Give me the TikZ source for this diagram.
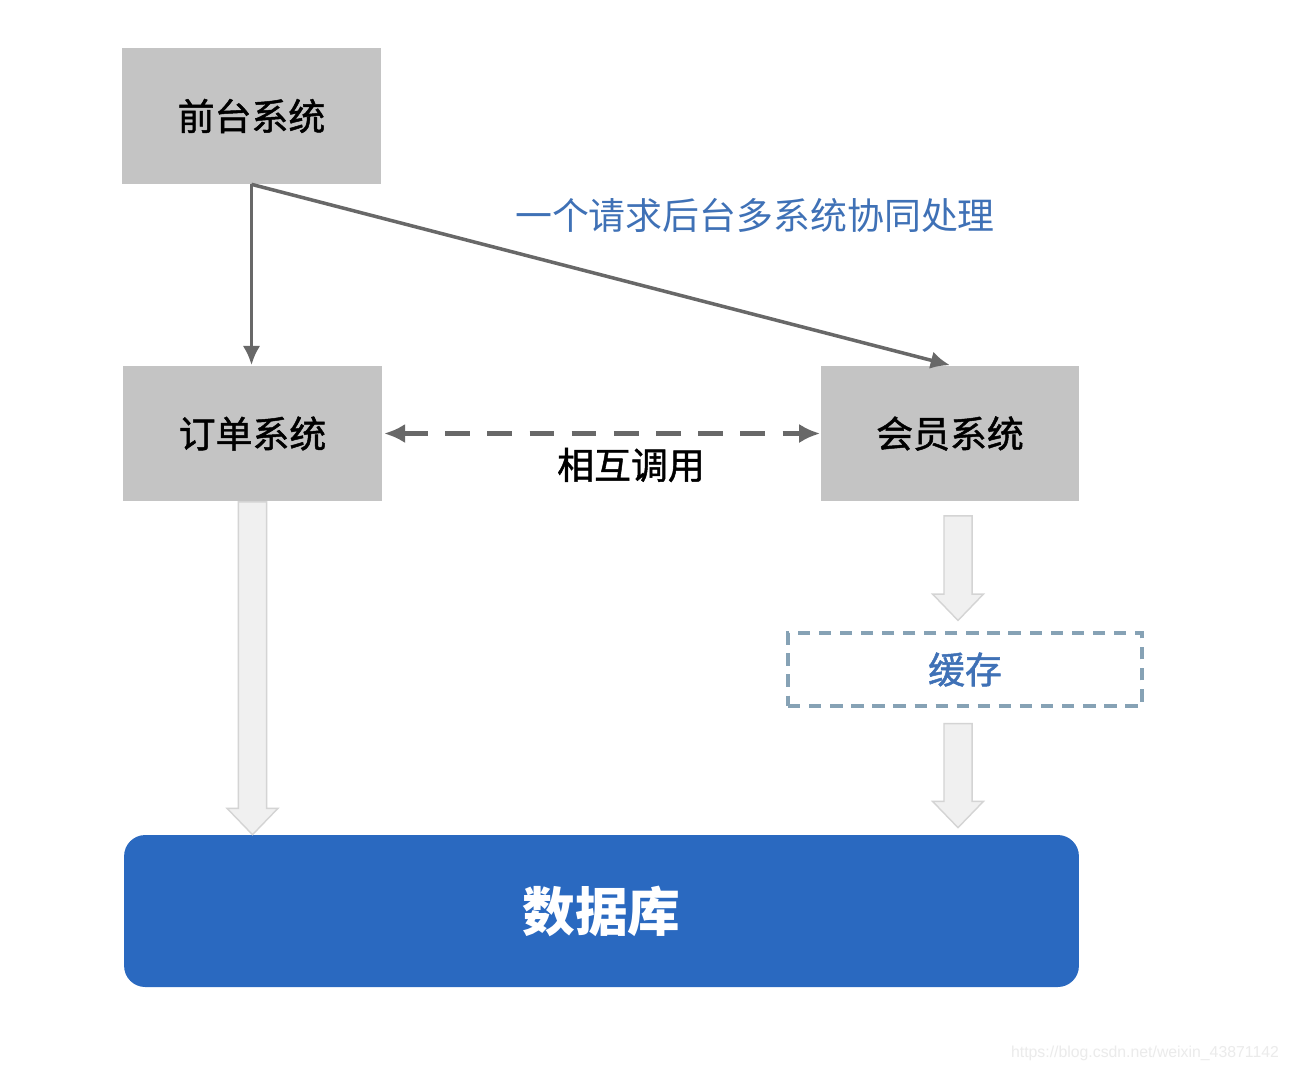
\documentclass[tikz,border=0pt]{standalone}
\usepackage{fontspec}
\newfontfamily\cjk{Noto Sans CJK SC}
\newfontfamily\cjkm[UprightFeatures={FakeBold=1.3}]{Noto Sans CJK SC}
\newfontfamily\wmfont{Liberation Sans}
\usetikzlibrary{arrows.meta,calc}
\definecolor{boxgray}{HTML}{C4C4C4}
\definecolor{linegray}{HTML}{686868}
\definecolor{noteblue}{HTML}{3F71B6}
\definecolor{dbblue}{HTML}{2A69C0}
\definecolor{cacheline}{HTML}{86A2B5}
\definecolor{fatfill}{HTML}{F0F0F0}
\definecolor{fatline}{HTML}{D4D4D4}

\begin{document}
\begin{tikzpicture}[x=0.02cm,y=-0.02cm,
  sys/.style={fill=boxgray, minimum width=5.18cm, minimum height=2.72cm, inner sep=0pt, font=\cjkm\fontsize{21}{25}\selectfont},
  call/.style={draw=linegray, line width=2pt, -{Latex[length=11pt,width=10pt]}},
  fatarrow/.style={draw=fatline, fill=fatfill, line width=0.8pt,
    to path={let \p1=(\tikztostart), \p2=(\tikztotarget) in
      (\x1-8pt,\y1) -- (\x1-8pt,\y2+15pt) -- (\x1-14.5pt,\y2+15pt) -- (\x1,\y2)
      -- (\x1+14.5pt,\y2+15pt) -- (\x1+8pt,\y2+15pt) -- (\x1+8pt,\y1) -- cycle}}]
\fill[white] (0,0) rectangle (1290,1072);
\useasboundingbox (0,0) rectangle (1290,1072);

\node[sys] (front) at (251.5,116) {前台系统};
\node[sys] (order) at (252.5,433.5) {订单系统};
\node[sys] (member) at (950,433.5) {会员系统};
\node[draw=cacheline, line width=1.8pt, dash pattern=on 7pt off 5pt, minimum width=7.08cm, minimum height=1.46cm,
  text=noteblue, font=\cjkm\fontsize{21}{25}\selectfont] (cache) at (965,669.5) {缓存};
\node[fill=dbblue, rounded corners=12pt, minimum width=19.1cm, minimum height=3.04cm,
  text=white, font=\cjk\bfseries\fontsize{30}{36}\selectfont] (db) at (601.5,911) {数据库};

\node[text=noteblue, font=\cjk\fontsize{21}{25}\selectfont] (note) at (755,215) {一个请求后台多系统协同处理};
\node[font=\cjkm\fontsize{21}{25}\selectfont] (mutual) at (631,465) {相互调用};

\path[call] (front.south) -- (front.south |- order.north);
\path[call] (front.south) -- (member.north);
\path[call, line width=3pt, {Latex[length=12pt,width=11pt]}-{Latex[length=12pt,width=11pt]}, dash pattern=on 14pt off 10pt]
  ([xshift=1pt]order.east) -- (member.west);

\path[fatarrow] (order.south) to (order.south |- db.north);
\path[fatarrow] ($(member.south)+(8,14)$) coordinate (m1) to ($(cache.north)+(-7,-11)$);
\path[fatarrow] ($(cache.south)+(-7,16)$) coordinate (c1) to ($(db.north)+(356.5,-7)$);

\node[text=black!8, font=\wmfont\fontsize{9}{11}\selectfont] (mark) at (1145,1053) {https://blog.csdn.net/weixin\_43871142};
\end{tikzpicture}
\end{document}
